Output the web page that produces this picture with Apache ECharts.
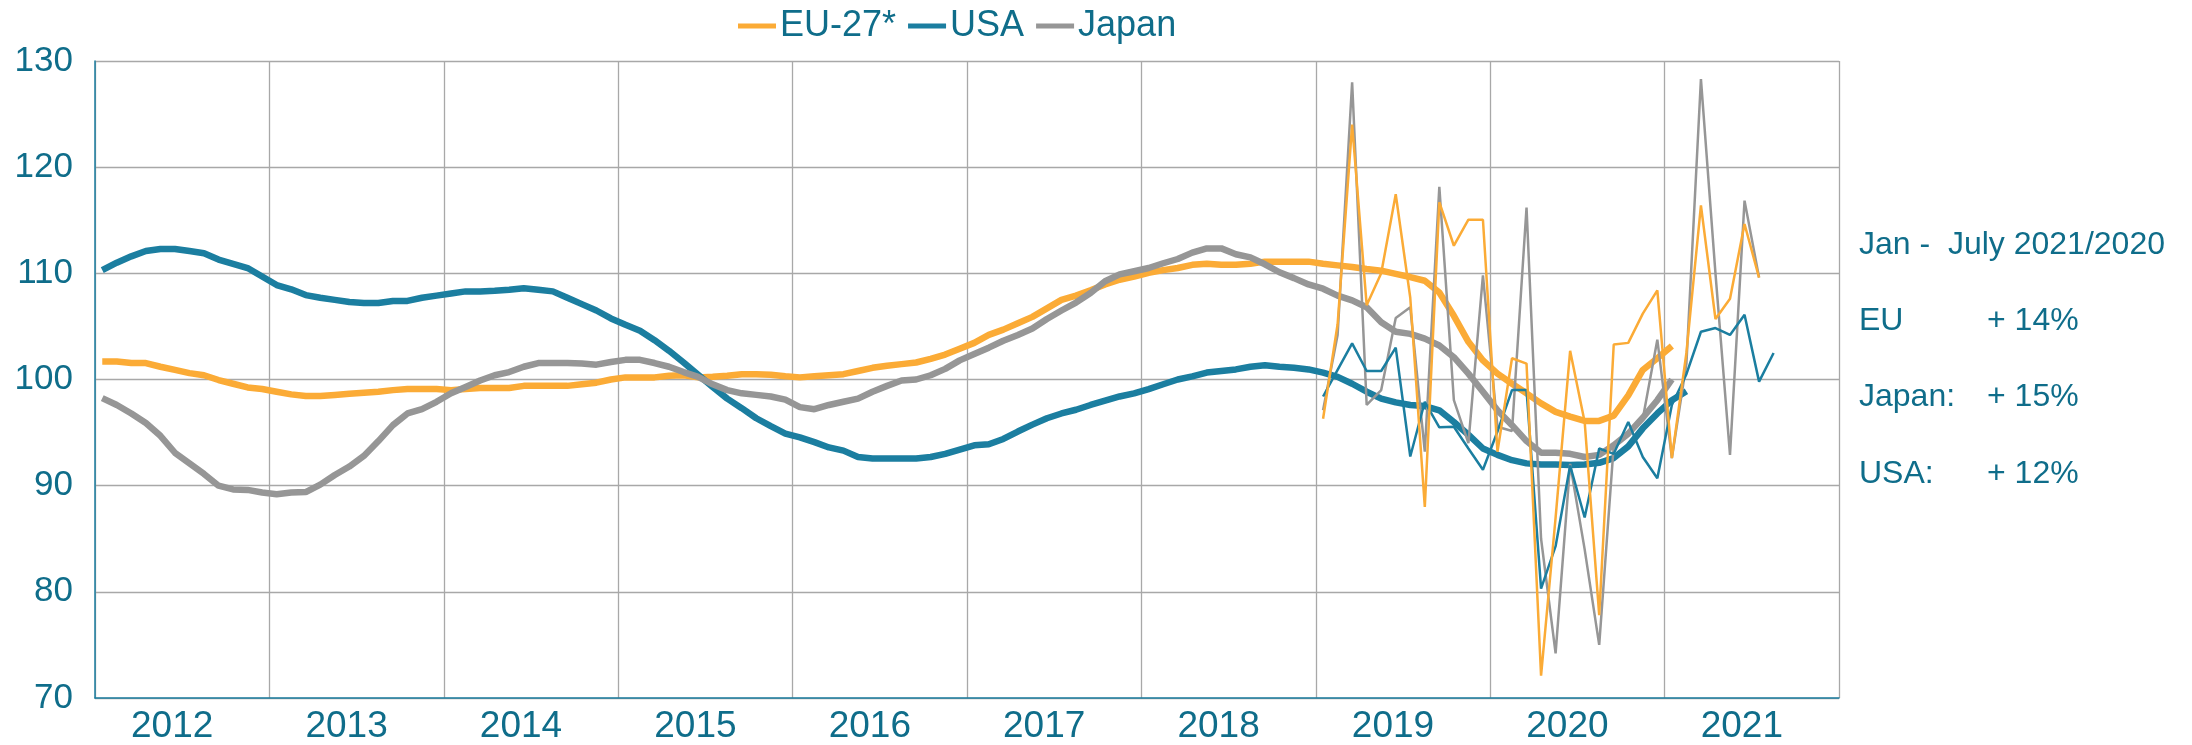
<!DOCTYPE html>
<html>
<head>
<meta charset="utf-8">
<script src="https://cdn.jsdelivr.net/npm/echarts@6/dist/echarts.min.js"></script>
<style>
html,body{margin:0;padding:0;background:#fff;}
#chart{width:2192px;height:745px;}
</style>
</head>
<body>
<div id="chart"></div>
<script>
// ---- data ----
const years = ['2012','2013','2014','2015','2016','2017','2018','2019','2020','2021'];
const yTicks = [70, 80, 90, 100, 110, 120, 130];
// smoothed trend, monthly from Jan 2012
const euTrend = [101.7,101.7,101.55,101.55,101.2,100.9,100.6,100.4,99.95,99.6,99.25,99.1,98.85,98.6,98.45,98.45,98.55,98.65,98.75,98.85,99.0,99.1,99.1,99.1,99.0,99.1,99.2,99.2,
99.2,99.4,99.4,99.4,99.4,99.55,99.7,100.0,100.2,100.2,100.2,100.35,100.4,100.2,100.25,100.35,100.5,100.5,100.45,100.3,100.2,100.3,100.4,100.5,100.8,101.1,101.3,101.45,
101.6,101.95,102.35,102.9,103.45,104.2,104.7,105.3,105.9,106.7,107.5,107.9,108.4,108.95,109.4,109.7,110.05,110.3,110.5,110.8,110.9,110.8,110.8,110.9,111.1,111.1,111.1,111.1,
110.9,110.75,110.6,110.4,110.25,109.95,109.65,109.3,108.2,106.0,103.55,101.8,100.55,99.6,98.7,97.75,96.95,96.5,96.1,96.1,96.6,98.5,100.9,102.0,103.15];
const usaTrend = [110.3,111.0,111.6,112.1,112.3,112.3,112.1,111.9,111.3,110.9,110.5,109.7,108.9,108.5,107.95,107.7,107.5,107.3,107.2,107.2,107.4,107.4,107.7,107.9,108.1,108.3,108.3,108.35,
108.45,108.6,108.45,108.3,107.7,107.1,106.5,105.75,105.15,104.6,103.7,102.7,101.6,100.45,99.3,98.2,97.3,96.35,95.6,94.9,94.55,94.1,93.6,93.3,92.7,92.55,92.55,92.55,
92.55,92.7,93.0,93.4,93.8,93.9,94.4,95.1,95.75,96.35,96.8,97.15,97.6,98.0,98.4,98.7,99.1,99.55,100.0,100.3,100.65,100.8,100.95,101.2,101.35,101.2,101.1,100.95,
100.65,100.25,99.6,98.85,98.2,97.85,97.6,97.5,97.1,96.0,94.8,93.5,92.9,92.4,92.1,92.0,92.0,91.95,92.0,92.15,92.6,93.7,95.4,96.8,98.05,98.9];
const japanTrend = [98.25,97.6,96.8,95.9,94.7,93.1,92.1,91.1,90.0,89.65,89.6,89.35,89.2,89.35,89.4,90.1,91.0,91.8,92.8,94.2,95.7,96.8,97.2,97.9,98.7,99.3,99.9,100.4,
100.7,101.2,101.55,101.55,101.55,101.5,101.4,101.65,101.85,101.85,101.55,101.2,100.7,100.25,99.55,99.0,98.7,98.55,98.4,98.1,97.4,97.2,97.6,97.9,98.2,98.85,99.4,99.9,
100.0,100.4,101.0,101.8,102.4,103.0,103.65,104.2,104.8,105.7,106.5,107.25,108.15,109.25,109.9,110.2,110.5,110.95,111.35,111.95,112.35,112.35,111.8,111.5,110.85,110.1,109.55,108.95,
108.55,107.9,107.45,106.8,105.4,104.5,104.3,103.85,103.2,102.1,100.55,98.85,97.1,95.7,94.2,93.1,93.1,93.0,92.7,92.9,93.8,94.9,96.4,98.05,100.0];
// monthly values, from Jan 2019
const euMonthly = [96.3,105.2,124.0,107.0,110.0,117.45,107.7,88.0,116.7,112.6,115.05,115.05,93.2,102.0,101.5,72.1,87,102.7,96,77.8,103.3,103.45,106.2,108.4,92.6,102.5,116.4,105.7,107.6,114.65,109.6];
const usaMonthly = [98.4,100.9,103.4,100.8,100.8,103.0,92.75,97.9,95.5,95.55,93.5,91.5,95.1,99.0,99.0,80.3,84.3,91.9,87.0,93.5,93.0,96.0,92.7,90.7,97.6,100.5,104.5,104.85,104.2,106.1,99.8,102.5];
const japanMonthly = [97.1,104.2,128.0,97.6,99.0,105.8,106.8,93.2,118.15,98.05,94.0,109.8,95.55,95.15,116.2,85,74.2,92.05,84,75.0,93.8,94.8,96.3,103.75,92.6,101.5,128.3,110,92.9,116.85,109.6];
const monthlyStart = 84; // Jan 2019, months counted from Jan 2012
const noteLines = [['Jan -  July 2021/2020', ''], ['EU', '+ 14%'], ['Japan:', '+ 15%'], ['USA:', '+ 12%']];

const C_EU = '#FBAB36', C_USA = '#1B7EA0', C_JP = '#969696', C_TXT = '#0F6D8A';

function pts(arr, start) { return arr.map((v, i) => [start + i + 0.5, v]); }

const chart = echarts.init(document.getElementById('chart'), null, {renderer: 'canvas'});
const FONT = 'Liberation Sans, Arial, sans-serif';

const graphics = [];
const noteTop = [247, 323, 399, 476];
noteLines.forEach((ln, i) => {
  graphics.push({type: 'text', left: 1859, top: noteTop[i] - 18,
    style: {text: ln[0], fill: C_TXT, font: '32px ' + FONT}});
  if (ln[1]) graphics.push({type: 'text', left: 1987, top: noteTop[i] - 18,
    style: {text: ln[1], fill: C_TXT, font: '32px ' + FONT}});
});

chart.setOption({
  animation: false,
  backgroundColor: '#fff',
  textStyle: {fontFamily: FONT},
  legend: {
    data: ['EU-27*', 'USA', 'Japan'],
    top: 3, left: 733,
    icon: 'rect', itemWidth: 38, itemHeight: 5, itemGap: 12,
    textStyle: {fontSize: 36, color: C_TXT, fontFamily: FONT, padding: [0, 0, 0, -1]}
  },
  grid: {left: 95, right: 353, top: 61, bottom: 45, containLabel: false},
  xAxis: [
    {type: 'category', data: years, boundaryGap: true,
     axisLine: {lineStyle: {color: C_USA, width: 1.5}},
     axisTick: {show: false},
     axisLabel: {color: C_TXT, fontSize: 37, margin: 10, fontFamily: FONT, padding: [0, 20, 0, 0]},
     splitLine: {show: true, lineStyle: {color: '#A8A8A8', width: 1.3}}},
    {type: 'value', min: 0, max: 120, show: false}
  ],
  yAxis: {
    type: 'value', min: yTicks[0], max: yTicks[yTicks.length - 1], interval: 10,
    axisLine: {show: true, lineStyle: {color: C_USA, width: 1.5}},
    axisTick: {show: false},
    axisLabel: {color: C_TXT, fontSize: 35, margin: 22, fontFamily: FONT},
    splitLine: {show: true, lineStyle: {color: '#A8A8A8', width: 1.3}}
  },
  series: [
    {name: 'EU-27*', type: 'line', xAxisIndex: 1, data: pts(euTrend, 0), symbol: 'none', lineStyle: {color: C_EU, width: 6.5}, itemStyle: {color: C_EU}, z: 2},
    {name: 'USA', type: 'line', xAxisIndex: 1, data: pts(usaTrend, 0), symbol: 'none', lineStyle: {color: C_USA, width: 6.5}, itemStyle: {color: C_USA}, z: 2},
    {name: 'Japan', type: 'line', xAxisIndex: 1, data: pts(japanTrend, 0), symbol: 'none', lineStyle: {color: C_JP, width: 6.5}, itemStyle: {color: C_JP}, z: 2},
    {name: 'Japan monthly', type: 'line', xAxisIndex: 1, data: pts(japanMonthly, monthlyStart), symbol: 'none', lineStyle: {color: C_JP, width: 2.5}, z: 3},
    {name: 'USA monthly', type: 'line', xAxisIndex: 1, data: pts(usaMonthly, monthlyStart), symbol: 'none', lineStyle: {color: C_USA, width: 2.5}, z: 3},
    {name: 'EU-27* monthly', type: 'line', xAxisIndex: 1, data: pts(euMonthly, monthlyStart), symbol: 'none', lineStyle: {color: C_EU, width: 2.5}, z: 3}
  ],
  graphic: graphics
});
</script>
</body>
</html>
